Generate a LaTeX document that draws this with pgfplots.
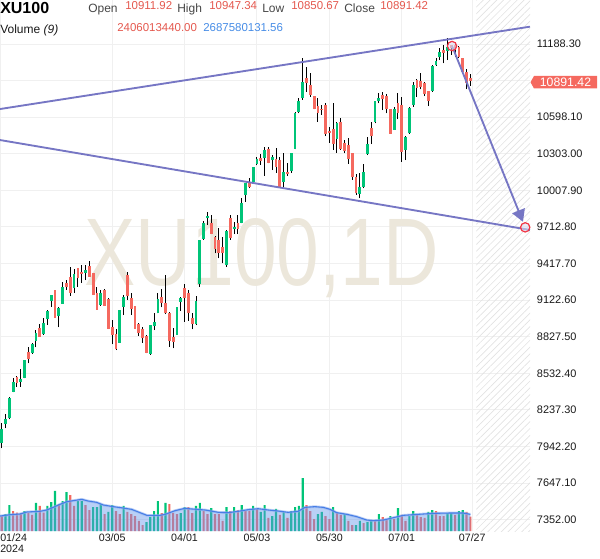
\documentclass[border=0pt]{standalone}
\usepackage{pgfplots}
\pgfplotsset{compat=1.18}
\usepackage{pgfplotstable}
\usepackage{fontspec}
\setmainfont{Liberation Sans}
\usetikzlibrary{patterns.meta, arrows.meta}

\definecolor{upc}{RGB}{0,196,120}
\definecolor{dnc}{RGB}{245,105,95}
\definecolor{gridc}{RGB}{240,240,240}
\definecolor{linec}{RGB}{118,118,196}
\definecolor{maline}{RGB}{70,125,230}
\definecolor{mafill}{RGB}{100,150,235}
\definecolor{wm}{RGB}{236,231,219}
\definecolor{txt}{RGB}{25,25,25}
\definecolor{lbl}{RGB}{70,70,70}
\definecolor{numr}{RGB}{228,88,78}
\definecolor{numb}{RGB}{70,140,230}
\definecolor{hatchc}{RGB}{226,226,226}
\definecolor{circr}{RGB}{242,54,69}

\pgfplotstableread{
x o h l c
0 7974 8130 7928 8081
1 8124 8205 8089 8164
2 8170 8344 8162 8336
3 8385 8492 8380 8463
4 8506 8514 8425 8457
5 8466 8565 8425 8487
6 8498 8640 8492 8640
7 8705 8748 8613 8651
8 8699 8780 8689 8769
9 8794 8882 8742 8861
10 8901 8928 8828 8828
11 8847 8976 8842 8939
12 8968 9043 8923 9035
13 9116 9164 9070 9164
14 9205 9205 8982 8982
15 8998 9070 8904 9060
16 9094 9267 9092 9229
17 9264 9285 9205 9226
18 9310 9388 9159 9183
19 9224 9371 9183 9336
20 9385 9385 9231 9299
21 9353 9406 9264 9331
22 9344 9406 9285 9366
23 9398 9439 9312 9312
24 9339 9339 9164 9164
25 9178 9226 9044 9044
26 9084 9205 9076 9183
27 9205 9210 9076 9076
28 9132 9138 8890 8890
29 8904 8963 8767 8839
30 8850 8893 8721 8729
31 8780 9044 8780 9044
32 9070 9164 9003 9151
33 9326 9353 9124 9159
34 9143 9183 9003 9051
35 9078 9078 8890 8890
36 8931 8936 8834 8855
37 8893 8904 8780 8815
38 8834 8842 8694 8699
39 8689 8923 8681 8923
40 8914 9017 8882 8949
41 9022 9183 9017 9132
42 9151 9210 9065 9097
43 9102 9326 9011 9017
44 9022 9030 8748 8794
45 8828 8896 8734 8788
46 8842 9065 8842 9065
47 9111 9151 9035 9138
48 9224 9250 8949 9138
49 9178 9205 8957 9017
50 8976 9017 8888 8931
51 8928 9156 8922 9119
52 9250 9608 9232 9608
53 9613 9764 9608 9742
54 9785 9836 9729 9801
55 9742 9809 9656 9656
56 9635 9640 9500 9533
57 9608 9702 9460 9500
58 9554 9629 9420 9506
59 9406 9689 9393 9683
60 9785 9809 9608 9624
61 9697 9756 9656 9715
62 9742 9809 9656 9694
63 9748 9944 9742 9909
64 9971 10070 9917 10065
65 10070 10105 10025 10033
66 10078 10199 10070 10199
67 10218 10275 10210 10261
68 10272 10298 10213 10248
69 10266 10360 10124 10334
70 10342 10360 10226 10231
71 10253 10293 10172 10274
72 10258 10347 10151 10199
73 10253 10274 10038 10038
74 10075 10307 10032 10156
75 10159 10226 10124 10140
76 10167 10312 10151 10307
77 10344 10643 10339 10635
78 10643 10750 10629 10729
79 10750 11073 10737 10885
80 10911 11006 10804 10876
81 10860 10952 10764 10777
82 10769 10769 10661 10661
83 10688 10750 10562 10635
84 10667 10696 10616 10656
85 10696 10710 10446 10460
86 10487 10522 10393 10468
87 10500 10710 10334 10382
88 10422 10562 10312 10549
89 10562 10589 10334 10339
90 10387 10414 10307 10328
91 10374 10428 10221 10258
92 10312 10312 10092 10113
93 10118 10137 9971 9984
94 9979 10145 9944 10038
95 10038 10221 10024 10159
96 10301 10436 10293 10382
97 10508 10557 10382 10446
98 10562 10729 10549 10729
99 10726 10790 10710 10750
100 10780 10804 10656 10747
101 10769 10785 10629 10662
102 10661 10661 10463 10463
103 10495 10683 10495 10661
104 10715 10790 10581 10629
105 10696 10764 10239 10320
106 10334 10446 10253 10436
107 10468 10683 10463 10670
108 10696 10885 10683 10858
109 10898 10903 10764 10831
110 10893 10952 10823 10844
111 10877 10885 10769 10785
112 10809 10809 10688 10731
113 10812 11019 10804 11011
114 11016 11073 11011 11051
115 11086 11153 11059 11126
116 11140 11180 11032 11113
117 11134 11234 11059 11161
118 11180 11180 11100 11153
119 11180 11194 11086 11140
120 11167 11172 11073 11086
121 11073 11073 10952 10965
122 10965 10984 10823 10871
123 10911.92 10947.34 10850.67 10891.42
}\ohlc

\pgfplotstableread{
x v up
0 2.50 0
1 2.83 1
2 4.33 1
3 3.33 0
4 3.06 0
5 2.94 0
6 3.33 1
7 3.06 0
8 2.67 0
9 4.67 1
10 4.17 0
11 3.06 0
12 4.17 1
13 4.83 1
14 6.67 1
15 4.50 0
16 5.00 1
17 6.50 1
18 6.00 0
19 4.17 0
20 5.00 1
21 5.00 1
22 4.33 0
23 3.50 0
24 4.00 1
25 4.00 1
26 4.50 1
27 2.83 0
28 3.17 1
29 4.33 1
30 3.33 0
31 2.83 0
32 4.17 1
33 3.17 0
34 2.83 0
35 2.50 0
36 1.67 0
37 1.00 0
38 1.50 1
39 2.33 1
40 3.33 1
41 5.00 1
42 3.00 0
43 4.67 1
44 4.50 0
45 3.00 0
46 2.83 0
47 3.00 1
48 4.00 1
49 4.00 0
50 3.00 0
51 4.17 1
52 4.67 1
53 3.33 0
54 2.83 0
55 3.83 1
56 2.83 0
57 2.83 0
58 1.67 0
59 4.00 1
60 3.33 0
61 4.00 1
62 3.50 0
63 4.33 1
64 3.33 0
65 3.33 0
66 4.17 1
67 3.67 0
68 3.17 1
69 4.33 1
70 2.17 0
71 2.50 1
72 3.67 1
73 2.67 0
74 3.17 1
75 2.17 0
76 3.33 1
77 4.00 1
78 4.17 1
79 8.83 1
80 4.33 0
81 3.33 0
82 2.00 0
83 2.83 1
84 3.17 1
85 2.50 0
86 2.00 0
87 4.00 1
88 3.00 0
89 2.67 0
90 2.83 1
91 1.67 0
92 1.00 0
93 1.00 1
94 1.67 1
95 1.33 0
96 1.50 1
97 1.67 1
98 1.67 0
99 2.83 1
100 2.33 0
101 1.83 0
102 2.50 1
103 2.00 0
104 3.83 1
105 2.67 0
106 1.67 0
107 2.50 1
108 3.33 1
109 2.83 0
110 2.33 0
111 2.17 0
112 3.17 1
113 3.50 1
114 3.33 0
115 2.50 0
116 2.50 0
117 3.00 1
118 3.00 1
119 2.67 0
120 3.33 1
121 3.50 1
122 3.17 0
123 2.41 0
}\vol

\pgfplotstableread{
x m
-0.4 2.50
2.2 2.72
4.8 2.83
6.6 3.17
10 3.28
11.8 3.50
13.5 3.94
15.3 4.44
17.1 4.89
18.8 5.06
21 5.28
22.7 5.00
24.9 4.78
26.7 4.33
29.3 4.06
31.9 3.83
34.1 3.61
36.3 3.06
38.1 2.61
41.5 2.61
42.9 2.78
45.5 3.39
48.1 3.78
49.9 3.67
53.4 3.50
56.9 3.11
59.5 3.06
62.1 3.28
64.7 3.56
67.3 3.72
70 3.50
72.6 3.33
75.2 3.11
77.8 3.28
79.6 3.94
82.2 4.06
84.4 3.94
86.2 3.61
87.9 3.06
90.6 2.78
93.2 2.39
95.8 1.83
97.5 1.72
100.2 1.83
102.8 2.22
105.4 2.61
108 2.72
110.6 2.83
113.3 2.94
117.7 3.00
121.1 3.00
123 2.78
}\vma

\pgfplotsset{base/.style={scale only axis, width=397.5pt, height=398.25pt,
  at={(0pt,20.25pt)}, anchor=south west, xmin=-0.446, xmax=138.66,
  scaled y ticks=false, scaled x ticks=false,
  axis line style={draw=none}, tick style={draw=none}}}

\begin{document}
\begin{tikzpicture}
\useasboundingbox (0,0) rectangle (450pt,418.5pt);

% grid, labels, hatch, watermark
\begin{axis}[base, ymin=7261.6, ymax=11543.1,
  ytick={7352,7647.1,7942.2,8237.3,8532.4,8827.5,9122.6,9417.7,9712.8,10007.9,10303,10598.1,10893.2,11188.3},
  yticklabels={7352.00,7647.10,7942.20,8237.30,8532.40,8827.50,9122.60,9417.70,9712.80,10007.90,10303.00,10598.10,{},11188.30},
  yticklabel pos=right,
  yticklabel style={anchor=west, inner sep=0pt, xshift=5pt, font=\fontsize{8.2}{9}\selectfont, text=txt},
  xtick={29,48,67,86,105,123.5},
  xticklabels={03/05,04/01,05/03,05/30,07/01,07/27},
  extra x ticks={-0.446},
  extra x tick labels={01/24\\2024},
  extra x tick style={xticklabel style={anchor=north west, align=left, xshift=0pt}},
  xticklabel style={font=\fontsize{8}{8.6}\selectfont, text=txt, inner sep=0pt, yshift=-1.8pt},
  grid=major, major grid style={gridc, line width=0.75pt}]
\fill[pattern={Lines[angle=45,distance=3.6pt,line width=0.5pt]}, pattern color=hatchc]
  (axis cs:124.6,7261.6) rectangle (axis cs:138.66,11543.1);
\node[text=wm, font=\fontsize{72}{72}\selectfont, xscale=0.8, inner sep=0pt] at (axis cs:68.3,9462.8) {XU100,1D};
\end{axis}

% volume
\begin{axis}[base, hide axis, ymin=0, ymax=88.5]
\addplot[ybar, bar width=1.6pt, bar shift=0pt, fill=upc, draw=none,
  restrict expr to domain={\thisrow{up}}{0.5:1.5}] table[x=x, y=v] {\vol};
\addplot[ybar, bar width=1.6pt, bar shift=0pt, fill=dnc, draw=none,
  restrict expr to domain={\thisrow{up}}{-0.5:0.5}] table[x=x, y=v] {\vol};
\addplot[fill=mafill, fill opacity=0.45, draw=none] table[x=x, y=m] {\vma} \closedcycle;
\addplot[maline!60!white, line width=2pt, opacity=0.6] table[x=x, y=m] {\vma};
\addplot[maline, line width=0.8pt] table[x=x, y=m] {\vma};
\end{axis}

% price
\begin{axis}[base, hide axis, ymin=7261.6, ymax=11543.1]
% wicks
\addplot[draw=none, mark=none, error bars/.cd, y dir=plus, y explicit, error mark=none,
  error bar style={black, line width=0.75pt}]
  table[x=x, y=l, y error expr=\thisrow{h}-\thisrow{l}] {\ohlc};
% up bodies
\addplot[draw=none, mark=none, restrict expr to domain={\thisrow{c}-\thisrow{o}}{0:100000},
  error bars/.cd, y dir=plus, y explicit, error mark=none,
  error bar style={upc, line width=2.1pt}]
  table[x=x, y=o, y error expr={max(\thisrow{c}-\thisrow{o},8)}] {\ohlc};
% down bodies
\addplot[draw=none, mark=none, restrict expr to domain={\thisrow{o}-\thisrow{c}}{0.001:100000},
  error bars/.cd, y dir=plus, y explicit, error mark=none,
  error bar style={dnc, line width=2.1pt}]
  table[x=x, y=c, y error expr={max(\thisrow{o}-\thisrow{c},8)}] {\ohlc};
% trend lines
\addplot[linec, line width=1.4pt] coordinates {(-0.446,10664) (138.66,11328)};
\addplot[linec, line width=1.4pt] coordinates {(-0.446,10414) (138.66,9689)};
% arrow
\addplot[linec, line width=1.4pt, shorten >=4.5pt, -{Triangle[length=9pt,width=10pt]}]
  coordinates {(118.2,11172) (137.4,9710)};
\addplot[only marks, mark=*, mark size=3.5pt, mark options={draw=circr, fill=linec!25!white, fill opacity=0.6, line width=0.9pt}]
  coordinates {(118.2,11172) (137.4,9710)};
\end{axis}

% header and last price label (pixel grid, origin top left)
\begin{scope}[shift={(0pt,418.5pt)}, x=0.75pt, y=-0.75pt]
\fill[dnc] (530.5,82.2) -- (534,76) -- (597,76) -- (597,88.5) -- (534,88.5) -- cycle;
\node[text=white, font=\fontsize{9.2}{10}\selectfont, inner sep=0pt] at (565.5,82.4) {10891.42};

\node[anchor=base west, inner sep=0pt, font=\fontsize{12}{13}\selectfont\bfseries, text=black] at (0,13.3) {XU100};
\node[anchor=base west, inner sep=0pt, font=\fontsize{9}{10}\selectfont, text=lbl] at (88,12.5) {Open};
\node[anchor=base west, inner sep=0pt, font=\fontsize{8.6}{10}\selectfont, text=numr] at (125,9.5) {10911.92};
\node[anchor=base west, inner sep=0pt, font=\fontsize{9}{10}\selectfont, text=lbl] at (177,12.5) {High};
\node[anchor=base west, inner sep=0pt, font=\fontsize{8.6}{10}\selectfont, text=numr] at (209,9.5) {10947.34};
\node[anchor=base west, inner sep=0pt, font=\fontsize{9}{10}\selectfont, text=lbl] at (262,12.5) {Low};
\node[anchor=base west, inner sep=0pt, font=\fontsize{8.6}{10}\selectfont, text=numr] at (291,9.5) {10850.67};
\node[anchor=base west, inner sep=0pt, font=\fontsize{9}{10}\selectfont, text=lbl] at (344,12.5) {Close};
\node[anchor=base west, inner sep=0pt, font=\fontsize{8.6}{10}\selectfont, text=numr] at (380,9.5) {10891.42};
\node[anchor=base west, inner sep=0pt, font=\fontsize{9}{10}\selectfont, text=txt] at (0,34) {Volume \textit{(9)}};
\node[anchor=base west, inner sep=0pt, font=\fontsize{8.6}{10}\selectfont, text=numr] at (117,31.7) {2406013440.00};
\node[anchor=base west, inner sep=0pt, font=\fontsize{8.6}{10}\selectfont, text=numb] at (203,31.7) {2687580131.56};
\end{scope}
\end{tikzpicture}
\end{document}
